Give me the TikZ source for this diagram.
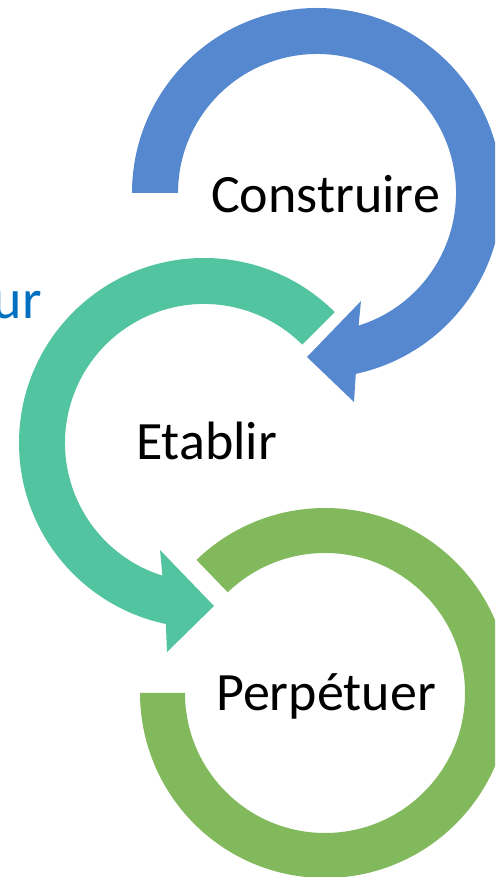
\documentclass[tikz,border=0pt]{standalone}
\usepackage{fontspec}
\setmainfont{Carlito}
\usetikzlibrary{calc}
\definecolor{cblue}{HTML}{5688CF}
\definecolor{cteal}{HTML}{52C5A0}
\definecolor{cgreen}{HTML}{83B95D}
\definecolor{ctxtblue}{HTML}{0070C0}
\tikzset{
  lbl/.style={anchor=base west, inner sep=0pt, font=\fontsize{54}{60}\selectfont, text=black},
  band/.style={draw=none}
}
\begin{document}
\begin{tikzpicture}[x=1pt,y=1pt]
\useasboundingbox (0,0) rectangle (495,877);
\begin{scope}
\clip (0,0) rectangle (495,877);
% blue circular arrow (Construire), centre (317,684)
\coordinate (cb) at (317,684);
\fill[cblue] ($(cb)+(180:185)$) arc[start angle=180, end angle=-77.9, radius=185]
  -- (354,475) -- (307,520) -- (361,576)
  -- ($(cb)+(-72.6:139)$) arc[start angle=-72.6, end angle=180, radius=139] -- cycle;
% teal circular arrow (Etablir), centre (204,434)
\coordinate (ct) at (204,434);
\fill[cteal] ($(ct)+(45:185)$) arc[start angle=45, end angle=258.1, radius=185]
  -- (167,225) -- (214,271) -- (160,327)
  -- ($(ct)+(252.6:139)$) arc[start angle=252.6, end angle=45, radius=139] -- cycle;
% green circular band (Perpetuer), centre (325,184)
\coordinate (cg) at (325,184);
\fill[cgreen] ($(cg)+(134:185)$) arc[start angle=134, end angle=-180, radius=185]
  -- ($(cg)+(180:140)$) arc[start angle=-180, end angle=134, radius=140] -- cycle;
\node[lbl] (construire) at (211,664) {Construire};
\node[lbl] (etablir) at (136,417) {Etablir};
\node[lbl] (perpetuer) at (216,166) {Perpétuer};
\node[anchor=base east, inner sep=0pt, font=\fontsize{56}{60}\selectfont, text=ctxtblue] (ur) at (42,558) {ur};
\end{scope}
\end{tikzpicture}
\end{document}
